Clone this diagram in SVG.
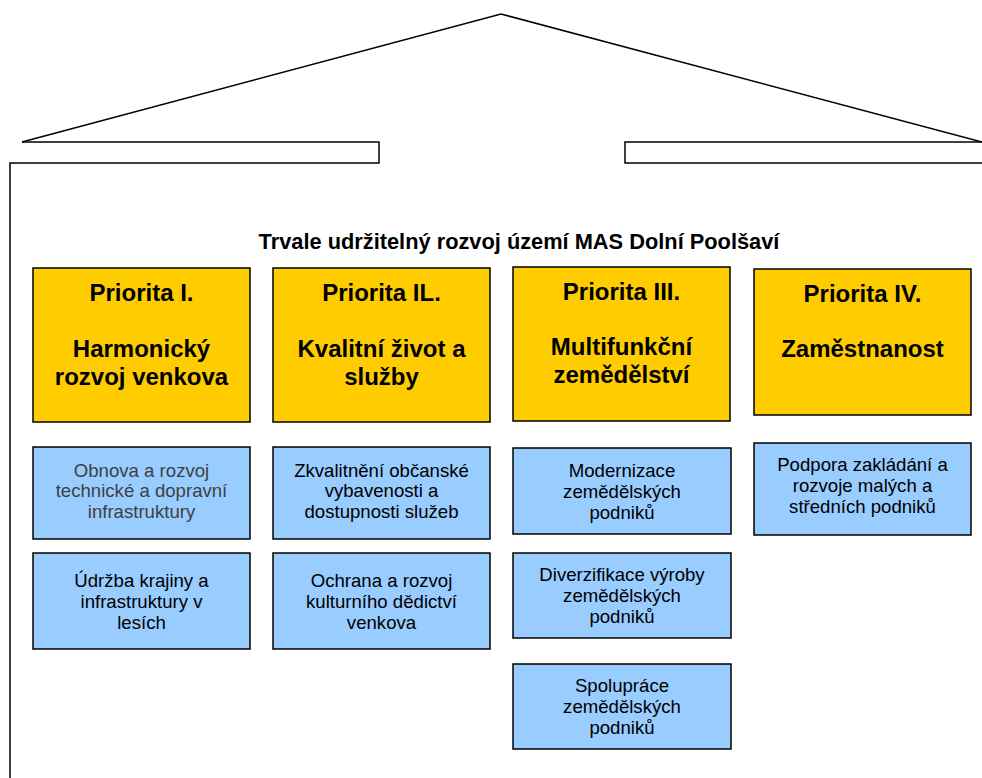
<svg xmlns="http://www.w3.org/2000/svg" width="982" height="778" viewBox="0 0 982 778">
<style>
.line{fill:none;stroke:#000;stroke-width:1.5}
.pri rect{fill:#FFCC00;stroke:#000;stroke-width:1.5}
.sub rect{fill:#99CCFF;stroke:#000;stroke-width:1.5}
.pri text{font-family:"Liberation Sans",Arial,sans-serif;font-weight:bold;font-size:24px;fill:#000;text-anchor:middle}
.sub text{font-family:"Liberation Sans",Arial,sans-serif;font-size:18.6px;fill:#000;text-anchor:middle}
.title{font-family:"Liberation Sans",Arial,sans-serif;font-weight:bold;font-size:21.8px;fill:#000;text-anchor:middle}
</style>
<rect width="982" height="778" fill="#fff"/>
<g id="house">
<polyline class="line" points="22,142 501,14 982,142"/>
<polyline class="line" points="22,142 379,142 379,163 10,163 10,778"/>
<polyline class="line" points="982,142 625,142 625,163 982,163"/>
</g>
<text class="title" x="519" y="249">Trvale udržitelný rozvoj území MAS Dolní Poolšaví</text>
<g id="p1" class="pri">
<rect x="33" y="268" width="217" height="154"/>
<text x="141.5" y="301">Priorita I.</text>
<text x="141.5" y="357">Harmonický</text>
<text x="141.5" y="385">rozvoj venkova</text>
</g>
<g id="p2" class="pri">
<rect x="273" y="268" width="217" height="154"/>
<text x="381.5" y="301">Priorita IL.</text>
<text x="381.5" y="357">Kvalitní život a</text>
<text x="381.5" y="385">služby</text>
</g>
<g id="p3" class="pri">
<rect x="513" y="267" width="217" height="154"/>
<text x="621.5" y="300">Priorita III.</text>
<text x="621.5" y="355">Multifunkční</text>
<text x="621.5" y="383">zemědělství</text>
</g>
<g id="p4" class="pri">
<rect x="754" y="269" width="217" height="146"/>
<text x="862.5" y="302">Priorita IV.</text>
<text x="862.5" y="357">Zaměstnanost</text>
</g>
<g id="s1a" class="sub">
<rect x="33" y="447" width="217" height="92"/>
<text x="141.5" y="477" style="fill:#404040">Obnova a rozvoj</text>
<text x="141.5" y="497" style="fill:#404040">technické a dopravní</text>
<text x="141.5" y="518" style="fill:#404040">infrastruktury</text>
</g>
<g id="s1b" class="sub">
<rect x="33" y="553" width="217" height="96"/>
<text x="141.5" y="587">Údržba krajiny a</text>
<text x="141.5" y="608">infrastruktury v</text>
<text x="141.5" y="629">lesích</text>
</g>
<g id="s2a" class="sub">
<rect x="273" y="447" width="217" height="92"/>
<text x="381.5" y="477">Zkvalitnění občanské</text>
<text x="381.5" y="497">vybavenosti a</text>
<text x="381.5" y="518">dostupnosti služeb</text>
</g>
<g id="s2b" class="sub">
<rect x="273" y="553" width="217" height="96"/>
<text x="381.5" y="587">Ochrana a rozvoj</text>
<text x="381.5" y="608">kulturního dědictví</text>
<text x="381.5" y="629">venkova</text>
</g>
<g id="s3a" class="sub">
<rect x="513" y="448" width="218" height="86"/>
<text x="622" y="477">Modernizace</text>
<text x="622" y="498">zemědělských</text>
<text x="622" y="519">podniků</text>
</g>
<g id="s3b" class="sub">
<rect x="513" y="553" width="218" height="85"/>
<text x="622" y="581">Diverzifikace výroby</text>
<text x="622" y="602">zemědělských</text>
<text x="622" y="623">podniků</text>
</g>
<g id="s3c" class="sub">
<rect x="513" y="664" width="218" height="85"/>
<text x="622" y="692">Spolupráce</text>
<text x="622" y="713">zemědělských</text>
<text x="622" y="734">podniků</text>
</g>
<g id="s4a" class="sub">
<rect x="754" y="443" width="217" height="92"/>
<text x="862.5" y="471">Podpora zakládání a</text>
<text x="862.5" y="492">rozvoje malých a</text>
<text x="862.5" y="513">středních podniků</text>
</g>
<g id="connectors"></g>
</svg>
